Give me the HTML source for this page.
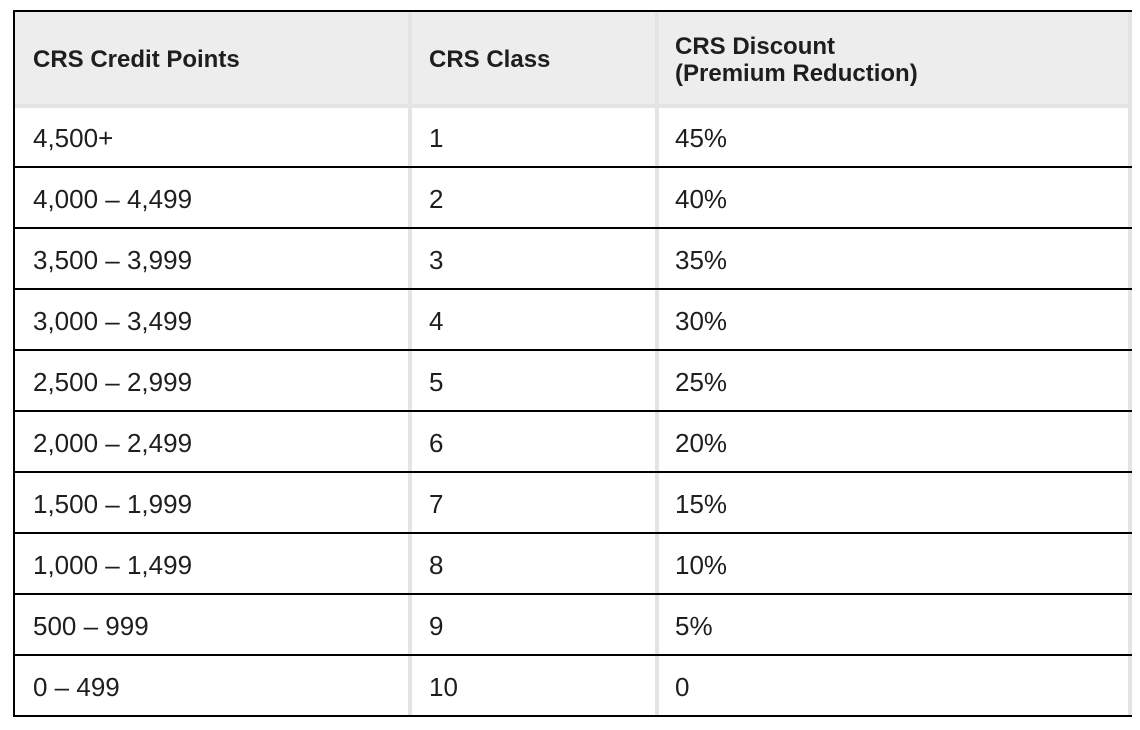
<!DOCTYPE html>
<html><head><meta charset="utf-8"><style>
body{margin:0;width:1140px;height:730px;background:#fff;position:relative;overflow:hidden;font-family:"Liberation Sans",Arial,sans-serif;color:#1e1e1e}
.a{position:absolute}
.hl{position:absolute;left:13px;width:1119px;height:2px;background:#000}
.t{position:absolute;font-size:26px;line-height:30px;white-space:nowrap}
.h{position:absolute;font-size:24px;font-weight:bold;line-height:27px;white-space:nowrap}
</style></head><body>
<div class="a" style="left:15px;top:12px;width:1113px;height:92px;background:#ededed"></div>
<div class="a" style="left:15px;top:104px;width:1113px;height:4px;background:#e4e4e4"></div>
<div class="a" style="left:408px;top:12px;width:4px;height:704px;background:#e4e4e4"></div>
<div class="a" style="left:655px;top:12px;width:4px;height:704px;background:#e4e4e4"></div>
<div class="a" style="left:1128px;top:12px;width:4px;height:704px;background:#e4e4e4"></div>
<div class="a" style="left:13px;top:10px;width:2px;height:707px;background:#000"></div>
<div class="hl" style="top:10px"></div>
<div class="hl" style="top:166px"></div>
<div class="hl" style="top:227px"></div>
<div class="hl" style="top:288px"></div>
<div class="hl" style="top:349px"></div>
<div class="hl" style="top:410px"></div>
<div class="hl" style="top:471px"></div>
<div class="hl" style="top:532px"></div>
<div class="hl" style="top:593px"></div>
<div class="hl" style="top:654px"></div>
<div class="hl" style="top:715px"></div>
<div class="h" style="left:33px;top:46px">CRS Credit Points</div>
<div class="h" style="left:429px;top:46px">CRS Class</div>
<div class="h" style="left:675px;top:33px">CRS Discount<br>(Premium Reduction)</div>
<div class="t" style="left:33px;top:123px">4,500+</div><div class="t" style="left:429px;top:123px">1</div><div class="t" style="left:675px;top:123px">45%</div>
<div class="t" style="left:33px;top:184px">4,000 – 4,499</div><div class="t" style="left:429px;top:184px">2</div><div class="t" style="left:675px;top:184px">40%</div>
<div class="t" style="left:33px;top:245px">3,500 – 3,999</div><div class="t" style="left:429px;top:245px">3</div><div class="t" style="left:675px;top:245px">35%</div>
<div class="t" style="left:33px;top:306px">3,000 – 3,499</div><div class="t" style="left:429px;top:306px">4</div><div class="t" style="left:675px;top:306px">30%</div>
<div class="t" style="left:33px;top:367px">2,500 – 2,999</div><div class="t" style="left:429px;top:367px">5</div><div class="t" style="left:675px;top:367px">25%</div>
<div class="t" style="left:33px;top:428px">2,000 – 2,499</div><div class="t" style="left:429px;top:428px">6</div><div class="t" style="left:675px;top:428px">20%</div>
<div class="t" style="left:33px;top:489px">1,500 – 1,999</div><div class="t" style="left:429px;top:489px">7</div><div class="t" style="left:675px;top:489px">15%</div>
<div class="t" style="left:33px;top:550px">1,000 – 1,499</div><div class="t" style="left:429px;top:550px">8</div><div class="t" style="left:675px;top:550px">10%</div>
<div class="t" style="left:33px;top:611px">500 – 999</div><div class="t" style="left:429px;top:611px">9</div><div class="t" style="left:675px;top:611px">5%</div>
<div class="t" style="left:33px;top:672px">0 – 499</div><div class="t" style="left:429px;top:672px">10</div><div class="t" style="left:675px;top:672px">0</div>
</body></html>
